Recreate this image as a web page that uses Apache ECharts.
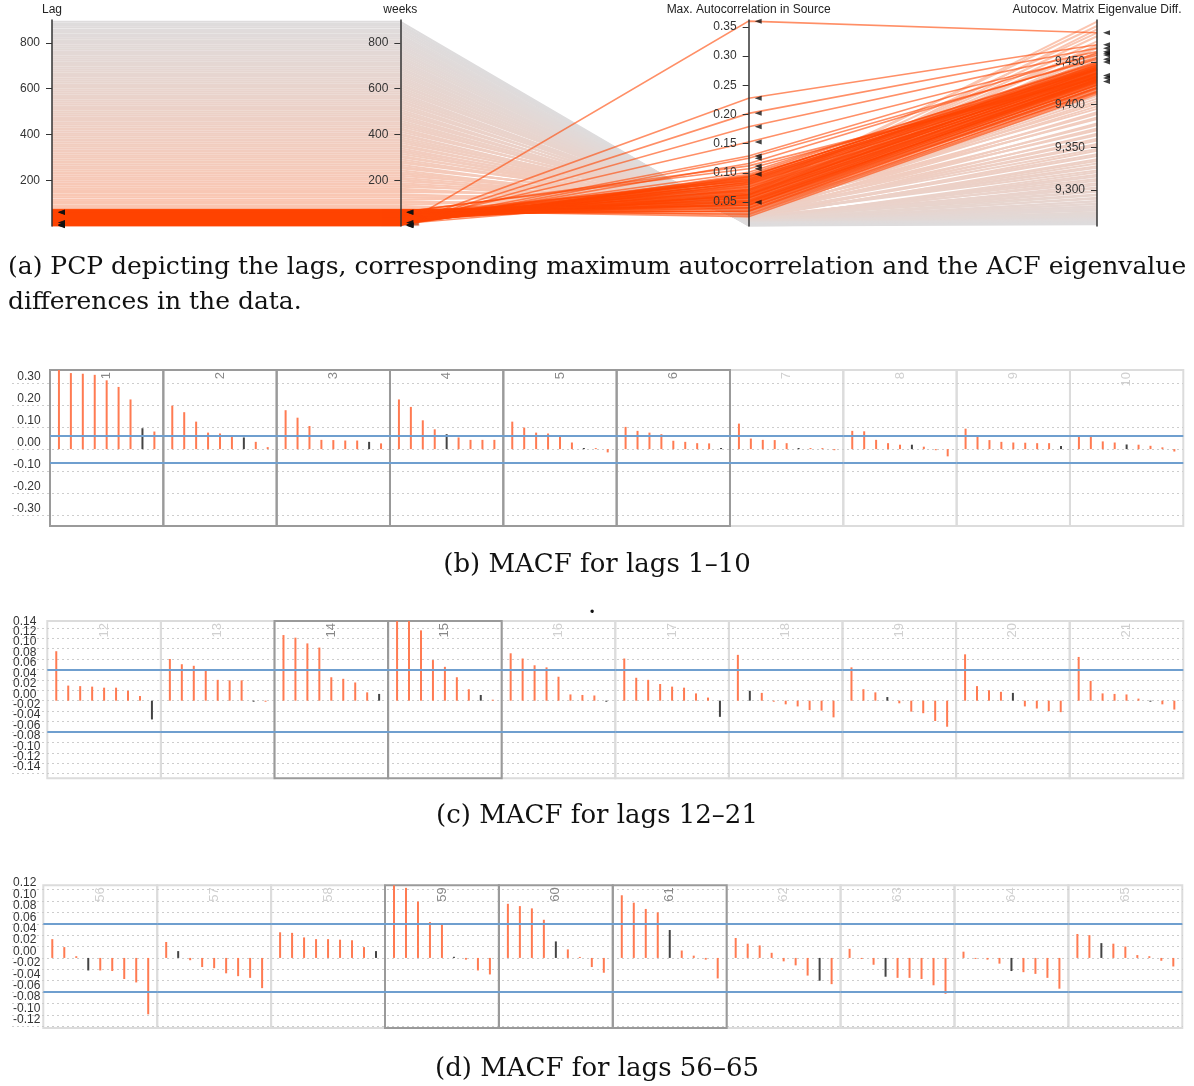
<!DOCTYPE html>
<html><head><meta charset="utf-8">
<script src="https://cdn.jsdelivr.net/npm/echarts@6/dist/echarts.min.js"></script>
<style>html,body{margin:0;padding:0;background:#fff}#c{width:1194px;height:1086px}</style>
</head><body><div id="c"></div>
<script>
// ================= DATA =================
// --- Parallel coordinates: brushed (selected) lags ---
const selLag = [1,2,3,4,5,6,7,8,9,10,11,12,13,14,15,16,17,18,19,20,21,22,23,24,25,26,27,28,29,30,31,32,33,34,35,36,37,38,39,40,41,42,43,44,45,46,47,48,49,50,51,52,53,54,55,56,57,58,59,60,61,62,63,64,65,66,67,68,69,70,71,72];
const selWeeks = [1,2,3,4,5,6,7,8,9,10,11,12,13,14,15,16,17,18,19,20,21,22,23,24,25,26,27,28,29,30,31,32,33,34,35,36,37,38,39,40,41,42,43,44,45,46,47,48,49,50,51,52,53,54,55,56,57,58,59,60,61,62,63,64,65,66,67,68,69,70,71,72];
const selAC = [0.360,0.202,0.179,0.228,0.125,0.0975,0.116,0.093,0.093,0.063,
  0.085,0.095,0.080,0.129,0.153,0.091,0.081,0.088,0.064,0.089,
  0.084,0.072,0.058,0.077,0.101,0.066,0.052,0.083,0.070,0.061,
  0.094,0.075,0.048,0.068,0.087,0.057,0.079,0.045,0.071,0.062,
  0.090,0.054,0.073,0.040,0.066,0.082,0.050,0.060,0.076,0.035,
  0.069,0.056,0.086,0.047,0.063,0.045,0.053,0.045,0.112,0.0495,
  0.107,0.035,0.030,0.040,0.042,0.058,0.025,0.038,0.051,0.033,
  0.044,0.028];
const selEig = [9484,9466,9462,9470,9453,9450,9455,9447,9449,9441,
  9446,9444,9440,9460,9458,9443,9438,9442,9436,9445,
  9441,9437,9433,9439,9448,9435,9430,9442,9436,9433,
  9446,9437,9428,9434,9443,9431,9440,9426,9437,9432,
  9444,9429,9438,9423,9433,9441,9427,9431,9436,9420,
  9434,9429,9442,9425,9432,9424,9428,9430,9431,9427,
  9434,9418,9416,9420,9423,9429,9412,9419,9426,9415,
  9422,9414];
// --- Parallel coordinates: context (unselected) lags ---
const ctxLag = [76,83,91,100,108,115,124,132,139,148,
  156,163,172,180,187,196,204,211,220,228,
  235,244,252,259,268,276,283,292,300,307,
  316,324,331,340,348,355,364,372,379,388,
  396,403,412,420,427,436,444,451,460,468,
  475,484,492,499,508,516,523,532,540,547,
  556,564,571,580,588,595,604,612,619,628,
  636,643,652,660,667,676,684,691,700,708,
  715,724,732,739,748,756,763,772,780,787,
  796,804,811,820,828,835,844,852,859,868,
  876,883,892];
const ctxWeeks = [76,83,91,100,108,115,124,132,139,148,
  156,163,172,180,187,196,204,211,220,228,
  235,244,252,259,268,276,283,292,300,307,
  316,324,331,340,348,355,364,372,379,388,
  396,403,412,420,427,436,444,451,460,468,
  475,484,492,499,508,516,523,532,540,547,
  556,564,571,580,588,595,604,612,619,628,
  636,643,652,660,667,676,684,691,700,708,
  715,724,732,739,748,756,763,772,780,787,
  796,804,811,820,828,835,844,852,859,868,
  876,883,892];
const ctxAC = [0.062,0.048,0.070,0.055,0.041,0.066,0.052,0.058,0.045,0.060,
  0.050,0.043,0.056,0.039,0.047,0.053,0.036,0.044,0.049,0.038,
  0.042,0.034,0.046,0.040,0.031,0.044,0.037,0.033,0.041,0.029,
  0.036,0.032,0.039,0.028,0.034,0.030,0.037,0.026,0.033,0.029,
  0.031,0.025,0.034,0.028,0.023,0.030,0.027,0.032,0.024,0.029,
  0.026,0.022,0.028,0.025,0.020,0.027,0.023,0.019,0.025,0.021,
  0.024,0.019,0.022,0.017,0.023,0.020,0.018,0.021,0.016,0.019,
  0.017,0.021,0.015,0.018,0.020,0.014,0.017,0.016,0.019,0.013,
  0.016,0.014,0.018,0.013,0.015,0.017,0.012,0.014,0.016,0.012,
  0.014,0.011,0.013,0.015,0.012,0.013,0.011,0.014,0.012,0.010,
  0.012,0.011,0.010];
const ctxEig = [9497,9488,9492,9480,9470,9484,9466,9474,9458,9468,
  9452,9461,9445,9455,9440,9448,9433,9442,9427,9436,
  9420,9429,9414,9423,9407,9416,9401,9410,9395,9404,
  9389,9398,9383,9391,9376,9385,9370,9378,9364,9372,
  9358,9366,9352,9360,9346,9354,9340,9348,9334,9342,
  9328,9336,9323,9331,9318,9326,9313,9321,9308,9316,
  9303,9311,9299,9306,9295,9302,9291,9298,9287,9294,
  9284,9290,9281,9287,9278,9284,9276,9281,9273,9279,
  9271,9277,9269,9274,9267,9272,9266,9270,9265,9268,
  9264,9267,9263,9266,9262,9265,9262,9264,9261,9263,
  9262,9261,9260];
// lags shown as small multiples with a darker frame (marked with triangles on the PCP axes)
const markedLags = [1,2,3,4,5,6,14,15,59,60,61];
// PCP tick values
const lagTicks = [200,400,600,800];
const acTicks = [0.05,0.10,0.15,0.20,0.25,0.30,0.35];
const eigTicks = [9300,9350,9400,9450];
const pcpNames = ['Lag','weeks','Max. Autocorrelation in Source','Autocov. Matrix Eigenvalue Diff.'];
const brushedWeeks = [0, 75];

// --- MACF small multiples ---
const lagsB = [1,2,3,4,5,6,7,8,9,10];
const valsB = [
  [0.36,0.346,0.343,0.338,0.313,0.283,0.226,0.095,0.080],
  [0.198,0.168,0.125,0.075,0.071,0.057,0.053,0.033,0.009],
  [0.177,0.143,0.105,0.042,0.041,0.039,0.039,0.033,0.026],
  [0.226,0.192,0.131,0.090,0.068,0.053,0.042,0.042,0.042],
  [0.125,0.098,0.075,0.071,0.057,0.030,0.005,0.002,-0.015],
  [0.101,0.083,0.075,0.068,0.038,0.033,0.027,0.026,0.005],
  [0.116,0.048,0.042,0.041,0.027,0.005,0.000,0.002,-0.005],
  [0.083,0.081,0.042,0.027,0.020,0.020,0.011,-0.005,-0.033],
  [0.093,0.060,0.041,0.033,0.030,0.029,0.027,0.027,0.014],
  [0.063,0.063,0.035,0.030,0.021,0.020,0.015,0.008,-0.011]];
const blackB = [7,6,7,4,6,8,5,5,8,4];
const selB = [1,2,3,4,5,6];

const lagsC = [12,13,14,15,16,17,18,19,20,21];
const valsC = [
  [0.095,0.029,0.028,0.027,0.025,0.025,0.019,0.009,-0.036],
  [0.080,0.070,0.067,0.060,0.040,0.039,0.039,-0.001,-0.002],
  [0.126,0.121,0.110,0.102,0.045,0.042,0.035,0.016,0.013],
  [0.170,0.160,0.135,0.078,0.065,0.045,0.022,0.011,0.001],
  [0.091,0.081,0.068,0.064,0.046,0.012,0.011,0.010,-0.002],
  [0.081,0.044,0.040,0.032,0.027,0.025,0.014,0.006,-0.031],
  [0.088,0.019,0.015,-0.001,-0.007,-0.011,-0.018,-0.019,-0.032],
  [0.064,0.022,0.016,0.007,-0.005,-0.021,-0.024,-0.039,-0.050],
  [0.089,0.028,0.020,0.017,0.015,-0.011,-0.015,-0.020,-0.022],
  [0.084,0.038,0.014,0.013,0.012,0.004,-0.001,-0.007,-0.017]];
const blackC = [8,7,8,7,8,8,1,3,4,6];
const selC = [14,15];

const lagsD = [56,57,58,59,60,61,62,63,64,65];
const valsD = [
  [0.033,0.019,0.003,-0.022,-0.022,-0.023,-0.037,-0.043,-0.099],
  [0.028,0.012,-0.004,-0.016,-0.018,-0.027,-0.032,-0.035,-0.053],
  [0.045,0.044,0.036,0.033,0.033,0.032,0.031,0.019,0.012],
  [0.140,0.123,0.099,0.063,0.060,0.002,-0.003,-0.022,-0.029],
  [0.095,0.091,0.087,0.067,0.029,0.015,0.001,-0.016,-0.026],
  [0.110,0.097,0.086,0.080,0.049,0.013,0.004,-0.003,-0.036],
  [0.035,0.025,0.022,0.009,-0.006,-0.013,-0.031,-0.040,-0.046],
  [0.016,-0.001,-0.012,-0.033,-0.035,-0.035,-0.037,-0.048,-0.063],
  [0.011,0.000,-0.003,-0.010,-0.023,-0.025,-0.028,-0.035,-0.054],
  [0.042,0.040,0.026,0.025,0.020,0.005,0.003,-0.005,-0.015]];
const blackD = [3,1,8,5,4,4,7,3,4,2];
const selD = [59,60,61];
const confBound = [0.058,-0.058];

const captionA = '(a) PCP depicting the lags, corresponding maximum autocorrelation and the ACF eigenvalue\ndifferences in the data.';
const captionB = '(b) MACF for lags 1\u201310';
const captionC = '(c) MACF for lags 12\u201321';
const captionD = '(d) MACF for lags 56\u201365';

// ================= LAYOUT / STYLE =================
const SANS = '"Liberation Sans", Arial, sans-serif';
const SERIF = '"DejaVu Serif", serif';
const PCP = {left: 52, top: 20, width: 1045, height: 206};
const axisX = [0,1,2,3].map(i => PCP.left + i * PCP.width / 3);
const dimMin = [0, 0, 0.009, 9258];
const dimMax = [900, 900, 0.362, 9499];
const ORANGE = '#ff4500';
const BAR = '#ff7b52';
const BAR_DARK = '#444';

function mix(a, b, t) {
  return 'rgb(' + a.map((v, i) => Math.round(v + (b[i] - v) * t)).join(',') + ')';
}
const PEACH = [251, 197, 176], GRAY = [222, 220, 221];
const capStyle = size => ({fontFamily: SERIF, fontSize: size, fontWeight: 'normal', color: '#111', lineHeight: 35});

const option = {
  animation: false,
  backgroundColor: '#fff',
  textStyle: {fontFamily: SANS},
  title: [
    {text: captionA, left: 8, top: 250, padding: 0, textStyle: capStyle(25)},
    {text: captionB, left: 'center', top: 548, padding: 0, textStyle: capStyle(26)},
    {text: '.', left: 588, top: 589, padding: 0, textStyle: capStyle(26)},
    {text: captionC, left: 'center', top: 799, padding: 0, textStyle: capStyle(26)},
    {text: captionD, left: 'center', top: 1052, padding: 0, textStyle: capStyle(26)}
  ],
  parallel: {left: PCP.left, top: PCP.top, width: PCP.width, height: PCP.height,
    parallelAxisDefault: {
      nameLocation: 'end', nameGap: 4,
      nameTextStyle: {fontSize: 12, color: '#222', fontFamily: SANS},
      axisLine: {lineStyle: {color: '#333', width: 1.5}},
      axisTick: {length: -6, lineStyle: {color: '#333'}},
      axisLabel: {color: '#333', fontSize: 12, margin: -12, align: 'right', fontFamily: SANS},
      splitLine: {show: false},
      realtime: false
    }
  },
  parallelAxis: [
    {dim: 0, id: 'lag', name: pcpNames[0], type: 'value', min: dimMin[0], max: dimMax[0],
      axisLabel: {customValues: lagTicks}, axisTick: {customValues: lagTicks}},
    {dim: 1, id: 'weeks', name: pcpNames[1], type: 'value', min: dimMin[1], max: dimMax[1],
      axisLabel: {customValues: lagTicks}, axisTick: {customValues: lagTicks}},
    {dim: 2, id: 'ac', name: pcpNames[2], type: 'value', min: dimMin[2], max: dimMax[2],
      axisLabel: {customValues: acTicks, formatter: v => Number(v).toFixed(2)}, axisTick: {customValues: acTicks}},
    {dim: 3, id: 'eig', name: pcpNames[3], type: 'value', min: dimMin[3], max: dimMax[3],
      axisLabel: {customValues: eigTicks, formatter: v => Number(v).toLocaleString('en-US')}, axisTick: {customValues: eigTicks}}
  ],
  grid: [], xAxis: [], yAxis: [], series: [], graphic: []
};

// parallel series: context lines (coloured by lag) and brushed lines
option.series.push({
  type: 'parallel', parallelIndex: 0, silent: true, smooth: false,
  lineStyle: {width: 2, opacity: 1}, progressive: 0,
  data: ctxLag.map((l, i) => ({
    value: [l, ctxWeeks[i], ctxAC[i], ctxEig[i]],
    lineStyle: {color: mix(PEACH, GRAY, Math.min(1, Math.max(0, (l - 73) / (896 - 73))))}
  }))
});
option.series.push({
  type: 'parallel', parallelIndex: 0, silent: true, smooth: false,
  lineStyle: {width: 1.6, color: ORANGE, opacity: 0.6}, progressive: 0,
  data: selLag.map((l, i) => [l, selWeeks[i], selAC[i], selEig[i]])
});

// brush box on the "weeks" axis (data range brushedWeeks)
{
  const g = option.grid.length;
  option.grid.push({left: axisX[1] - 19, top: PCP.top, width: 38, height: PCP.height, show: false});
  option.xAxis.push({gridIndex: g, type: 'value', min: 0, max: 1, show: false});
  option.yAxis.push({gridIndex: g, type: 'value', min: dimMin[1], max: dimMax[1], show: false});
  option.series.push({type: 'scatter', xAxisIndex: g, yAxisIndex: g, silent: true, z: 4, data: [],
    markArea: {silent: true, itemStyle: {color: '#d2582f', opacity: 0.95, borderColor: '#f2f2f2', borderWidth: 1},
      data: [[{yAxis: brushedWeeks[0]}, {yAxis: brushedWeeks[1]}]]}});
}

// triangle markers next to each PCP axis
const markedRows = markedLags.map(l => selLag.indexOf(l)).filter(i => i >= 0);
const markedVals = [
  markedRows.map(i => selLag[i]), markedRows.map(i => selWeeks[i]),
  markedRows.map(i => selAC[i]), markedRows.map(i => selEig[i])];
for (let a = 0; a < 4; a++) {
  const g = option.grid.length;
  option.grid.push({left: axisX[a] + 5, top: PCP.top, width: 9, height: PCP.height, show: false});
  option.xAxis.push({gridIndex: g, type: 'value', min: 0, max: 1, show: false});
  option.yAxis.push({gridIndex: g, type: 'value', min: dimMin[a], max: dimMax[a], show: false});
  option.series.push({type: 'scatter', xAxisIndex: g, yAxisIndex: g, silent: true, z: 50, zlevel: 1,
    symbol: 'triangle', symbolRotate: 90, symbolSize: [5, 7], itemStyle: {color: '#111'},
    data: markedVals[a].map(v => [0.5, v])});
}

// MACF rows
function fmt2(v) { v = Number(v); return (Math.abs(v) < 1e-9 ? 0 : v).toFixed(2); }
const rows = [
  {left: 50, cellW: 113.33, top: 370, height: 156, min: -0.35, max: 0.36, split: 7, align: 'right', margin: 28.7,
    lags: lagsB, vals: valsB, black: blackB, sel: selB},
  {left: 47.3, cellW: 113.6, top: 621, height: 157.3, min: -0.149, max: 0.153, split: 15, align: 'left', margin: 1,
    lags: lagsC, vals: valsC, black: blackC, sel: selC},
  {left: 43.3, cellW: 113.9, top: 885.3, height: 142.7, min: -0.123, max: 0.1275, split: 12, align: 'left', margin: 1,
    lags: lagsD, vals: valsD, black: blackD, sel: selD}
];
rows.forEach(row => {
  const g = option.grid.length;
  option.grid.push({left: 12, right: 11, top: row.top, height: row.height, show: false});
  option.xAxis.push({gridIndex: g, type: 'value', min: 0, max: 1, show: false});
  option.yAxis.push({gridIndex: g, type: 'value', min: row.min, max: row.max, splitNumber: row.split,
    axisLine: {show: false}, axisTick: {show: false},
    splitLine: {show: true, showMinLine: false, showMaxLine: false, lineStyle: {color: '#cdcdcd', type: [2, 3], width: 1}},
    axisLabel: {inside: true, align: row.align, margin: row.margin, verticalAlign: 'bottom', lineHeight: 13,
      fontSize: 12, color: '#333', fontFamily: SANS, showMinLabel: false, showMaxLabel: false, formatter: fmt2}});
  row.lags.forEach((lag, k) => {
    const gi = option.grid.length;
    const sel = row.sel.indexOf(lag) >= 0;
    const left = row.left + k * row.cellW;
    option.grid.push({left: left, top: row.top, width: row.cellW, height: row.height, show: true,
      borderColor: sel ? '#9a9a9a' : '#dcdcdc', borderWidth: 2, backgroundColor: 'transparent', z: sel ? 1 : 0});
    option.xAxis.push({gridIndex: gi, type: 'value', min: -0.75, max: 8.75, show: false});
    option.yAxis.push({gridIndex: gi, type: 'value', min: row.min, max: row.max, show: false});
    option.series.push({type: 'bar', xAxisIndex: gi, yAxisIndex: gi, barWidth: 2, barMinHeight: 1, silent: true, clip: true,
      data: row.vals[k].map((v, j) => ({value: [j, v], itemStyle: {color: j === row.black[k] ? BAR_DARK : BAR}})),
      markLine: {silent: true, symbol: 'none', label: {show: false}, animation: false,
        lineStyle: {color: '#6f9fcf', width: 2, type: 'solid'},
        data: confBound.map(b => ({yAxis: b}))}});
    option.graphic.push({type: 'text', x: left + row.cellW / 2, y: row.top + 2, rotation: Math.PI / 2, silent: true, z: 10,
      style: {text: String(lag), fill: sel ? '#888' : '#d0d0d0', fontSize: 13, fontFamily: SANS, align: 'right', verticalAlign: 'middle'}});
  });
});

const chart = echarts.init(document.getElementById('c'), null, {renderer: 'canvas'});
chart.setOption(option);
</script></body></html>
